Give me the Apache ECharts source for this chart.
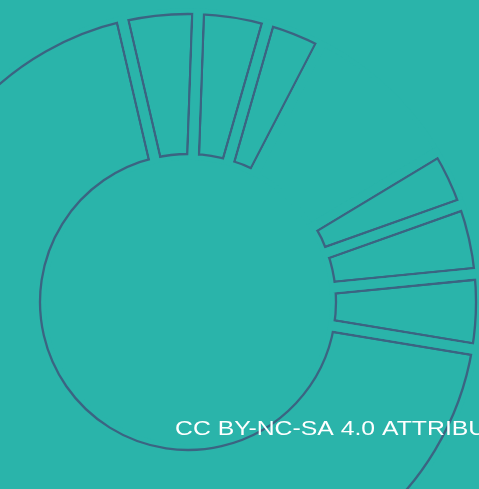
<!DOCTYPE html>
<html>
<head>
<meta charset="utf-8">
<script src="https://cdn.jsdelivr.net/npm/echarts@6/dist/echarts.min.js"></script>
<style>
  html, body { margin: 0; padding: 0; background: #2ab4aa; }
  #chart { width: 479px; height: 489px; }
</style>
</head>
<body>
<div id="chart"></div>
<script>
// Data (slice sizes in degrees of the full circle)
var categories = ['Segment 1', 'Segment 2', 'Segment 3', 'Gap', 'Segment 4', 'Segment 5', 'Segment 6', 'Segment 7'];
var values = [15.1, 14, 11.4, 31.5, 11.5, 14, 15, 247.5];
var hidden = [false, false, false, true, false, false, false, false];
var licenseText = 'CC BY-NC-SA 4.0 ATTRIBUTION';

var BG = '#2ab4aa';
var LINE = '#3b6482';
var CENTER = [188, 302];
var R_IN = 142.25, R_OUT = 293.75;
var START = 103.1;

function buildData(kind) {
  return categories.map(function (name, i) {
    var item = { name: name, value: values[i] };
    if (kind === 'line') {
      item.itemStyle = hidden[i]
        ? { color: 'rgba(0,0,0,0)', borderWidth: 0 }
        : { color: 'rgba(0,0,0,0)', borderColor: LINE, borderWidth: 13.8, borderJoin: 'miter' };
    } else {
      item.itemStyle = {
        color: hidden[i] ? BG : 'rgba(0,0,0,0)',
        borderColor: BG, borderWidth: 9.2, borderJoin: 'miter'
      };
    }
    return item;
  });
}

var common = {
  type: 'pie',
  center: CENTER,
  startAngle: START,
  clockwise: true,
  label: { show: false },
  labelLine: { show: false },
  silent: true,
  animation: false,
  emphasis: { disabled: true }
};

var chart = echarts.init(document.getElementById('chart'), null, { renderer: 'canvas' });
chart.setOption({
  backgroundColor: BG,
  animation: false,
  series: [
    Object.assign({}, common, { radius: [R_IN, R_OUT], z: 1, data: buildData('line') }),
    Object.assign({}, common, { radius: [R_IN, R_OUT], z: 2, data: buildData('cover') }),
    Object.assign({}, common, { radius: [R_OUT, 800], z: 3,
      data: [{ value: 1, itemStyle: { color: BG, borderWidth: 0 } }] }),
    Object.assign({}, common, { radius: [0, R_IN], z: 3,
      data: [{ value: 1, itemStyle: { color: BG, borderWidth: 0 } }] })
  ],
  graphic: [{
    type: 'text',
    x: 175, y: 419,
    scaleX: 1.18,
    z: 100,
    silent: true,
    style: {
      text: licenseText,
      fill: '#ffffff',
      font: '21px "Liberation Sans", Arial, sans-serif',
      verticalAlign: 'top',
      align: 'left'
    }
  }]
});
</script>
</body>
</html>
